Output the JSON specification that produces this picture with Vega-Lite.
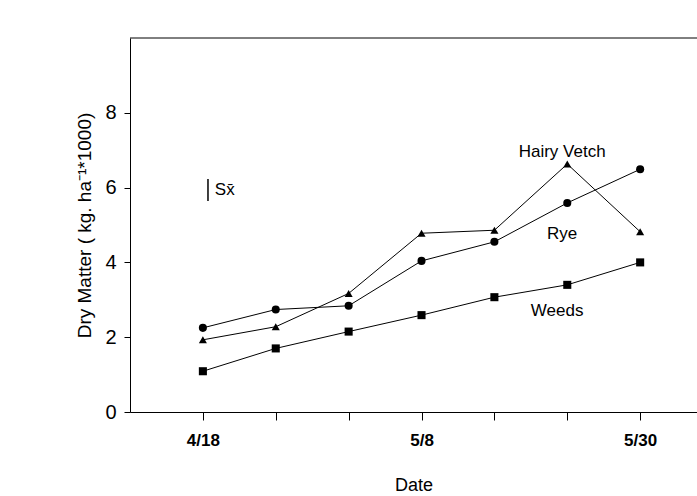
{
  "$schema": "https://vega.github.io/schema/vega-lite/v6.json",
  "width": 567,
  "height": 374,
  "autosize": {"type": "none"},
  "padding": {"left": 130, "top": 38, "right": 0, "bottom": 84},
  "background": "white",
  "config": {
    "view": {"stroke": null},
    "font": "Liberation Sans",
    "axis": {"grid": false, "domainColor": "black", "tickColor": "black", "labelColor": "black", "titleColor": "black", "labelFont": "Liberation Sans", "titleFont": "Liberation Sans", "titleFontWeight": "normal"}
  },
  "layer": [
    {
      "data": {"values": [{"top": 10}]},
      "mark": {"type": "rule", "color": "black", "strokeWidth": 1},
      "encoding": {"y": {"field": "top", "type": "quantitative"}}
    },
    {
      "data": {"values": [
        {"series": "Hairy Vetch", "t": 0, "value": 1.93},
        {"series": "Hairy Vetch", "t": 1, "value": 2.28},
        {"series": "Hairy Vetch", "t": 2, "value": 3.17},
        {"series": "Hairy Vetch", "t": 3, "value": 4.78},
        {"series": "Hairy Vetch", "t": 4, "value": 4.86},
        {"series": "Hairy Vetch", "t": 5, "value": 6.63},
        {"series": "Hairy Vetch", "t": 6, "value": 4.82},
        {"series": "Rye", "t": 0, "value": 2.25},
        {"series": "Rye", "t": 1, "value": 2.74},
        {"series": "Rye", "t": 2, "value": 2.84},
        {"series": "Rye", "t": 3, "value": 4.04},
        {"series": "Rye", "t": 4, "value": 4.55},
        {"series": "Rye", "t": 5, "value": 5.59},
        {"series": "Rye", "t": 6, "value": 6.49},
        {"series": "Weeds", "t": 0, "value": 1.09},
        {"series": "Weeds", "t": 1, "value": 1.70},
        {"series": "Weeds", "t": 2, "value": 2.15},
        {"series": "Weeds", "t": 3, "value": 2.59},
        {"series": "Weeds", "t": 4, "value": 3.07},
        {"series": "Weeds", "t": 5, "value": 3.40},
        {"series": "Weeds", "t": 6, "value": 4.0}
      ]},
      "layer": [
        {
          "mark": {"type": "line", "color": "black", "strokeWidth": 1},
          "encoding": {
            "x": {"field": "t", "type": "quantitative"},
            "y": {"field": "value", "type": "quantitative"},
            "detail": {"field": "series"}
          }
        },
        {
          "mark": {"type": "point", "filled": true, "color": "black", "opacity": 1, "size": 65},
          "encoding": {
            "x": {"field": "t", "type": "quantitative"},
            "y": {"field": "value", "type": "quantitative"},
            "shape": {"field": "series", "type": "nominal", "legend": null,
              "scale": {"domain": ["Hairy Vetch", "Rye", "Weeds"], "range": ["triangle-up", "circle", "square"]}}
          }
        }
      ]
    },
    {
      "data": {"values": [
        {"label": "Hairy Vetch", "x": 4.93, "y": 6.95, "w": "bold", "a": "center"},
        {"label": "Rye", "x": 4.93, "y": 4.76, "w": "normal", "a": "center"},
        {"label": "Weeds", "x": 4.86, "y": 2.71, "w": "normal", "a": "center"},
        {"label": "Sx̄", "x": 0.3, "y": 5.94, "w": "normal", "a": "left"}
      ]},
      "mark": {"type": "text", "fontSize": 17, "color": "black", "baseline": "middle"},
      "encoding": {
        "x": {"field": "x", "type": "quantitative"},
        "y": {"field": "y", "type": "quantitative"},
        "text": {"field": "label"},
        "align": {"field": "a", "type": "nominal", "scale": null, "legend": null},
        "fontWeight": {"field": "w", "type": "nominal", "scale": null, "legend": null}
      }
    },
    {
      "data": {"values": [{"x": 0.07, "y1": 5.64, "y2": 6.23}]},
      "mark": {"type": "rule", "color": "black", "strokeWidth": 1.5},
      "encoding": {
        "x": {"field": "x", "type": "quantitative"},
        "y": {"field": "y1", "type": "quantitative"},
        "y2": {"field": "y2"}
      }
    }
  ],
  "resolve": {"scale": {"x": "shared", "y": "shared"}},
  "encoding": {
    "x": {"type": "quantitative",
      "scale": {"domain": [-1, 6.78], "nice": false, "zero": false},
      "axis": {"title": "Date", "values": [0, 1, 2, 3, 4, 5, 6], "tickSize": 8,
        "labelExpr": "datum.value == 0 ? '4/18' : datum.value == 3 ? '5/8' : datum.value == 6 ? '5/30' : ''",
        "labelFontSize": 17, "labelFontWeight": "bold", "labelPadding": 12, "titleFontSize": 18, "titlePadding": 28}},
    "y": {"type": "quantitative",
      "scale": {"domain": [0, 10], "nice": false},
      "axis": {"title": "Dry Matter ( kg. ha⁻¹*1000)", "values": [0, 2, 4, 6, 8], "tickSize": 6,
        "labelFontSize": 20, "labelPadding": 8, "titleFontSize": 19, "titlePadding": 10}}
  }
}
